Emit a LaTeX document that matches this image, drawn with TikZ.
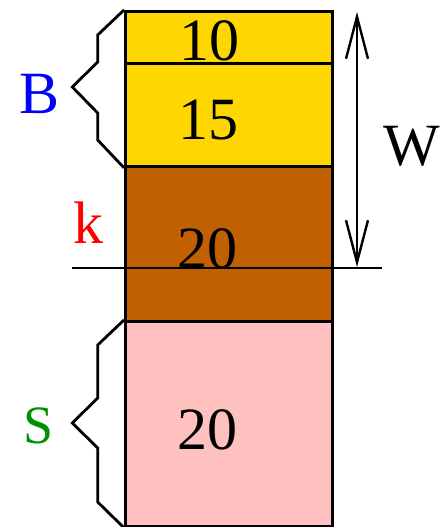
\documentclass[tikz,border=0pt]{standalone}
\usepackage{fontspec}
\setmainfont{Liberation Serif}
\usetikzlibrary{arrows.meta}
\definecolor{cgold}{RGB}{255,215,0}
\definecolor{cbrown}{RGB}{192,96,0}
\definecolor{cpink}{RGB}{255,192,192}
\definecolor{cgreen}{RGB}{0,144,0}
\begin{document}
\begin{tikzpicture}[x=1pt,y=-1pt,
  box/.style={draw=black, line width=2.8pt, minimum width=207pt, inner sep=0pt, anchor=north west},
  big/.style={font=\fontsize{60}{72}\selectfont, inner sep=0pt, anchor=base},
  ln/.style={line width=2.8pt}]
\useasboundingbox (0,0) rectangle (443,527);
\node[box, fill=cgold, minimum height=52pt] (b1) at (124,10) {};
\node[box, fill=cgold, minimum height=103pt] (b2) at (124,62) {};
\node[box, fill=cbrown, minimum height=155pt] (b3) at (124,165) {};
\node[box, fill=cpink, minimum height=205pt] (b4) at (124,320) {};
\node[big] (t1) at (209,60) {10};
\node[big] (t2) at (208,139) {15};
\node[big] (t3) at (207,268) {20};
\node[big] (t4) at (207,449) {20};
\node[big, text=blue] (lB) at (40,113) {B};
\node[big, text=red] (lk) at (88,243) {k};
\node[big, font=\fontsize{54}{64}\selectfont, text=cgreen] (lS) at (39,443) {S};
\node[big] (lW) at (412,165) {W};
\coordinate (hl) at (72,268);
\coordinate (hr) at (382,268);
\draw[ln] (hl) -- (hr);
\coordinate (at) at (357,12);
\coordinate (ab) at (357,267);
\draw[line width=2.4pt, {Straight Barb[length=42pt,width=22pt]}-{Straight Barb[length=42pt,width=22pt]}] (at) -- (ab);
\draw[ln, line join=miter] (b1.north west) -- (97.7,35) -- (97.7,62) -- (72.3,87) -- (97.7,113) -- (97.7,140) -- (b2.south west);
\draw[ln, line join=miter] (b4.north west) -- (97.7,345) -- (97.7,398) -- (72.3,423) -- (97.7,448) -- (97.7,502) -- (b4.south west);
\end{tikzpicture}
\end{document}
